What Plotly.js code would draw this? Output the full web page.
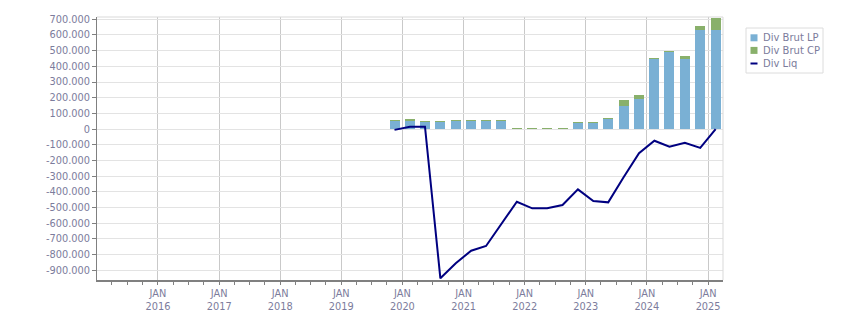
<!DOCTYPE html>
<html>
<head>
<meta charset="utf-8">
<script src="https://cdn.plot.ly/plotly-3.0.1.min.js"></script>
<style>
html,body{margin:0;padding:0;background:#fff;}
#chart{width:851px;height:313px;}
</style>
</head>
<body>
<div id="chart"></div>
<script>
// ---- data ----
var periods = ['2019-11-15','2020-02-15','2020-05-15','2020-08-15','2020-11-15','2021-02-15','2021-05-15','2021-08-15','2021-11-15','2022-02-15','2022-05-15','2022-08-15','2022-11-15','2023-02-15','2023-05-15','2023-08-15','2023-11-15','2024-02-15','2024-05-15','2024-08-15','2024-11-15','2025-02-15'];
var divBrutLP = [52000,52000,47000,47000,54000,54000,54000,54000,0,0,0,0,39000,39000,66000,149000,194000,445000,493000,447000,634000,634000];
var divBrutCP = [8000,14000,5000,3000,6000,6000,6000,6000,7000,7000,7000,7000,8000,8000,7000,38000,25000,6000,7000,21000,25000,76000];
var divLiq = [-5000,15000,15000,-951000,-855000,-775000,-745000,-600000,-463000,-505000,-505000,-484000,-384000,-458000,-467000,-307000,-154000,-74000,-112000,-87000,-120000,0];
var seriesNames = ['Div Brut LP','Div Brut CP','Div Liq'];
var yTickVals = [700000,600000,500000,400000,300000,200000,100000,0,-100000,-200000,-300000,-400000,-500000,-600000,-700000,-800000,-900000];
var yTickText = ['700.000','600.000','500.000','400.000','300.000','200.000','100.000','0','-100.000','-200.000','-300.000','-400.000','-500.000','-600.000','-700.000','-800.000','-900.000'];
var xTickVals = ['2016-01-01','2017-01-01','2018-01-01','2019-01-01','2020-01-01','2021-01-01','2022-01-01','2023-01-01','2024-01-01','2025-01-01'];
var xTickText = ['JAN<br>2016','JAN<br>2017','JAN<br>2018','JAN<br>2019','JAN<br>2020','JAN<br>2021','JAN<br>2022','JAN<br>2023','JAN<br>2024','JAN<br>2025'];

// ---- style ----
var W = 851, H = 313;
var M = {l:97, r:128, t:17, b:33};
var PW = W - M.l - M.r, PH = H - M.t - M.b;
function px(x){ return (x - M.l) / PW; }
function py(y){ return (H - M.b - y) / PH; }
var colLP = '#7ab0d4', colCP = '#89b06b', colLiq = '#000080';
var txtCol = '#7c7c9c';
var fontFam = 'DejaVu Sans, Verdana, sans-serif';
var barWidth = 59.8 * 86400000;

var traces = [
  {type:'bar', x:periods, y:divBrutLP, name:seriesNames[0], marker:{color:colLP, line:{width:0}}, width:barWidth},
  {type:'bar', x:periods, y:divBrutCP, name:seriesNames[1], marker:{color:colCP, line:{width:0}}, width:barWidth},
  {type:'scatter', mode:'lines', x:periods, y:divLiq, name:seriesNames[2], line:{color:colLiq, width:2}}
];

// custom legend (decoration)
var legX = 746, legY = 28, legW = 77, legH = 45;
var shapes = [
  {type:'line', xref:'paper', yref:'paper', x0:0, x1:1, y0:1, y1:1, line:{color:'#d9d9d9', width:1}},
  {type:'line', xref:'paper', yref:'paper', x0:1, x1:1, y0:0, y1:1, line:{color:'#d9d9d9', width:1}},
  {type:'rect', xref:'paper', yref:'paper', x0:px(legX), x1:px(legX+legW), y0:py(legY), y1:py(legY+legH), line:{color:'#dcdcdc', width:1}, fillcolor:'#ffffff', layer:'above'},
  {type:'rect', xref:'paper', yref:'paper', x0:px(750.5), x1:px(757.5), y0:py(34.3), y1:py(41.3), line:{width:0}, fillcolor:colLP, layer:'above'},
  {type:'rect', xref:'paper', yref:'paper', x0:px(750.5), x1:px(757.5), y0:py(46.9), y1:py(53.9), line:{width:0}, fillcolor:colCP, layer:'above'},
  {type:'line', xref:'paper', yref:'paper', x0:px(750.5), x1:px(757.5), y0:py(63.5), y1:py(63.5), line:{color:colLiq, width:2}, layer:'above'}
];
var legYs = [37.8, 50.4, 63.2];
var annotations = seriesNames.map(function(n, i){
  return {xref:'paper', yref:'paper', x:px(761), y:py(legYs[i]), xanchor:'left', yanchor:'middle', text:n, showarrow:false, font:{family:fontFam, size:10, color:txtCol}};
});

var layout = {
  width:W, height:H,
  margin:M,
  paper_bgcolor:'#ffffff', plot_bgcolor:'#ffffff',
  barmode:'stack', bargap:0,
  showlegend:false,
  font:{family:fontFam, size:9.8, color:txtCol},
  xaxis:{
    type:'date', range:['2015-01-02','2025-03-31'],
    tickmode:'array', tickvals:xTickVals, ticktext:xTickText,
    ticks:'outside', ticklen:3, tickcolor:'#808080', tickwidth:1,
    showgrid:true, gridcolor:'#c9c9c9', gridwidth:1,
    showline:true, linecolor:'#808080', linewidth:2,
    zeroline:false,
    tickfont:{family:fontFam, size:9.8, color:txtCol},
    minor:{dtick:'M3', tick0:'2015-01-01', ticks:'outside', ticklen:3, tickcolor:'#808080', showgrid:false}
  },
  yaxis:{
    range:[-961800, 714500],
    tickmode:'array', tickvals:yTickVals, ticktext:yTickText,
    ticks:'outside', ticklen:4, tickcolor:'#808080',
    showgrid:true, gridcolor:'#e3e3e3', gridwidth:1,
    showline:true, linecolor:'#808080', linewidth:1,
    zeroline:false,
    tickfont:{family:fontFam, size:9.8, color:txtCol}
  },
  shapes:shapes,
  annotations:annotations
};

Plotly.newPlot('chart', traces, layout, {displayModeBar:false, staticPlot:true});
</script>
</body>
</html>
